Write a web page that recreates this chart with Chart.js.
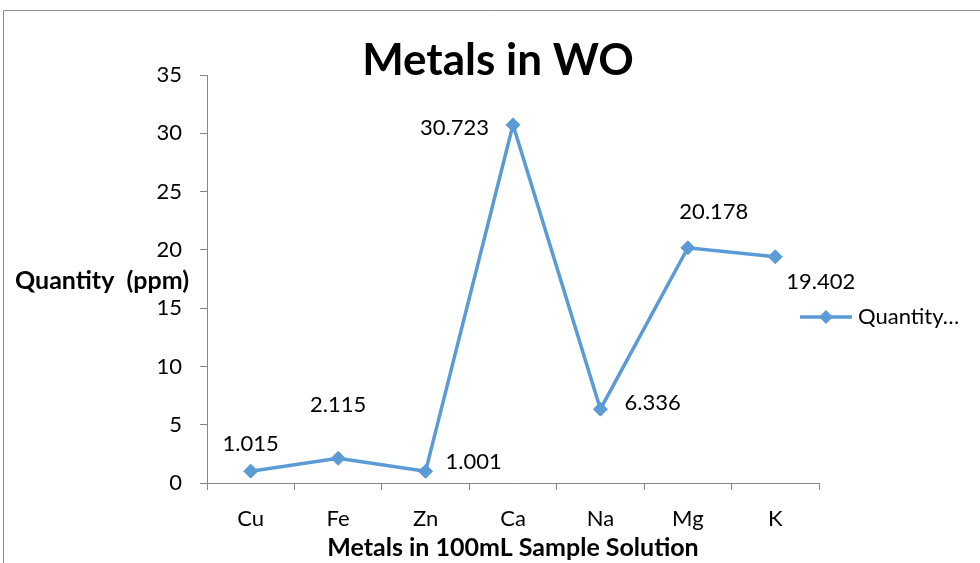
<!DOCTYPE html>
<html>
<head>
<meta charset="utf-8">
<script src="https://cdn.jsdelivr.net/npm/chart.js@4/dist/chart.umd.min.js"></script>
<style>
  html, body { margin: 0; padding: 0; background: #fff; }
  #wrap { width: 980px; height: 563px; }
</style>
</head>
<body>
<div id="wrap"><canvas id="c" width="980" height="563"></canvas></div>
<script>
// ---- data ----
const categories = ['Cu', 'Fe', 'Zn', 'Ca', 'Na', 'Mg', 'K'];
const quantity = [1.015, 2.115, 1.001, 30.723, 6.336, 20.178, 19.402];
const seriesName = 'Quantity (ppm)';
const legendText = 'Quantity…';
const chartTitle = 'Metals in WO';
const yTitle = 'Quantity  (ppm)';
const xTitle = 'Metals in 100mL Sample Solution';
const yMin = 0, yMax = 35, yStep = 5;

// label placement relative to the point: [dx, dy, align]
const labelPlacement = [
  [0, -27, 'center'],
  [0, -53, 'center'],
  [20, -9, 'left'],
  [-24, 3, 'right'],
  [24, -6, 'left'],
  [26, -36, 'center'],
  [11, 25, 'left']
];

const FONT = 'Lato, "Open Sans", sans-serif';
const BLUE = '#5B9BD5';
const AXIS = '#868686';

const decorPlugin = {
  id: 'decor',
  beforeDraw(chart) {
    const ctx = chart.ctx;
    ctx.save();
    ctx.strokeStyle = '#8c8c8c';
    ctx.lineWidth = 1;
    ctx.beginPath();
    ctx.moveTo(3.5, 563);
    ctx.lineTo(3.5, 10.5);
    ctx.lineTo(980, 10.5);
    ctx.stroke();
    ctx.restore();
  },
  afterDraw(chart) {
    const ctx = chart.ctx;
    ctx.save();
    // title
    ctx.fillStyle = '#000';
    ctx.font = 'bold 44px ' + FONT;
    ctx.textAlign = 'center';
    ctx.textBaseline = 'middle';
    ctx.fillText(chartTitle, 498, 61);
    // y title (horizontal)
    ctx.font = 'bold 25px ' + FONT;
    ctx.fillText(yTitle, 102, 281);
    // legend
    const ly = 317;
    ctx.strokeStyle = BLUE;
    ctx.lineWidth = 3.5;
    ctx.beginPath();
    ctx.moveTo(800, ly);
    ctx.lineTo(852, ly);
    ctx.stroke();
    ctx.fillStyle = BLUE;
    ctx.beginPath();
    ctx.moveTo(826, ly - 7);
    ctx.lineTo(833, ly);
    ctx.lineTo(826, ly + 7);
    ctx.lineTo(819, ly);
    ctx.closePath();
    ctx.fill();
    ctx.fillStyle = '#000';
    ctx.font = '22px ' + FONT;
    ctx.textAlign = 'left';
    ctx.fillText(legendText, 858, ly);
    // data labels
    const meta = chart.getDatasetMeta(0);
    ctx.font = '22px ' + FONT;
    meta.data.forEach((pt, i) => {
      const p = labelPlacement[i];
      ctx.textAlign = p[2];
      ctx.fillText(String(quantity[i]), pt.x + p[0], pt.y + p[1]);
    });
    ctx.restore();
  }
};

new Chart(document.getElementById('c'), {
  type: 'line',
  data: {
    labels: categories,
    datasets: [{
      label: seriesName,
      data: quantity,
      borderColor: BLUE,
      backgroundColor: BLUE,
      borderWidth: 3.5,
      pointStyle: 'rectRot',
      pointRadius: 7,
      pointHoverRadius: 7,
      pointBackgroundColor: BLUE,
      pointBorderColor: BLUE,
      pointBorderWidth: 1,
      tension: 0,
      fill: false
    }]
  },
  options: {
    responsive: false,
    devicePixelRatio: 1,
    animation: false,
    layout: { padding: { left: 0, right: 161, top: 75, bottom: 0 } },
    plugins: {
      legend: { display: false },
      title: { display: false },
      tooltip: { enabled: false }
    },
    scales: {
      x: {
        type: 'category',
        offset: true,
        afterFit(s) { s.height = 80; },
        grid: { offset: true, drawOnChartArea: false, drawTicks: true, tickLength: 7, color: AXIS },
        border: { color: AXIS, width: 1 },
        ticks: { color: '#000', font: { family: FONT, size: 22 }, padding: 16, maxRotation: 0 },
        title: { display: true, text: xTitle, color: '#000', font: { family: FONT, size: 25, weight: 'bold' }, padding: { top: 0, bottom: 0 } }
      },
      y: {
        min: yMin,
        max: yMax,
        afterFit(s) { s.width = 207; },
        grid: { drawOnChartArea: false, drawTicks: true, tickLength: 7, color: AXIS },
        border: { color: AXIS, width: 1 },
        ticks: { stepSize: yStep, color: '#000', font: { family: FONT, size: 22 }, padding: 18 }
      }
    }
  },
  plugins: [decorPlugin]
});
</script>
</body>
</html>
